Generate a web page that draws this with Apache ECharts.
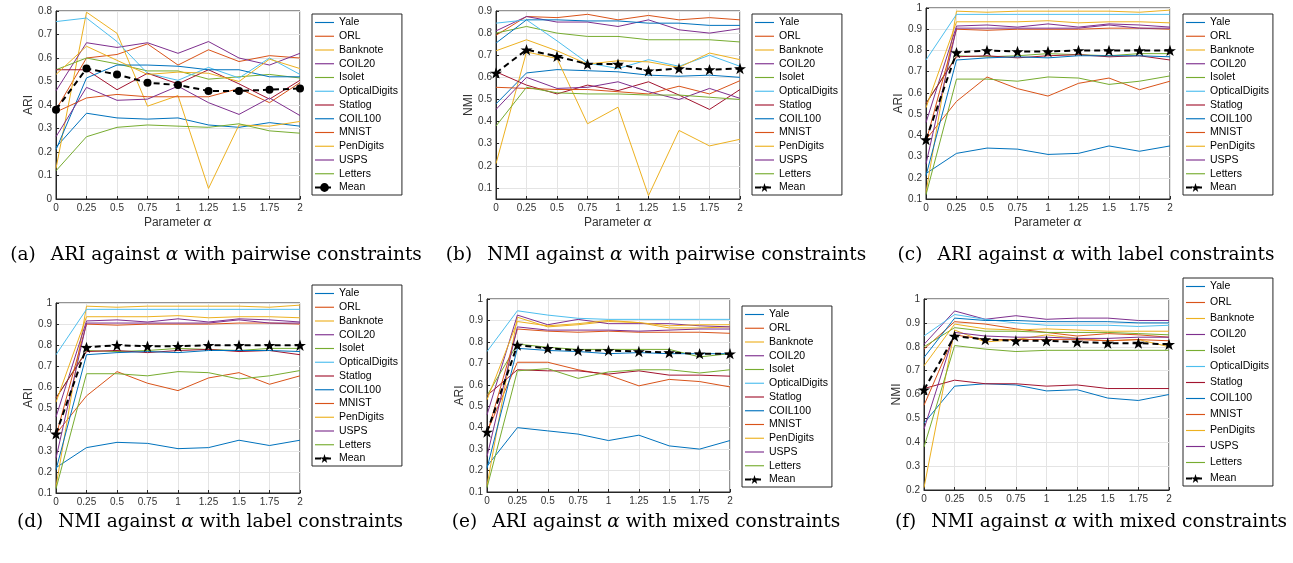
<!DOCTYPE html>
<html>
<head>
<meta charset="utf-8">
<script src="https://cdn.jsdelivr.net/npm/echarts@6/dist/echarts.min.js"></script>
<style>
html,body{margin:0;padding:0;background:#fff;}
#chart{width:1293px;height:563px;}
</style>
</head>
<body>
<div id="chart"></div>
<script>
var alpha=[0,0.25,0.5,0.75,1,1.25,1.5,1.75,2];
var names=['Yale','ORL','Banknote','COIL20','Isolet','OpticalDigits','Statlog','COIL100','MNIST','PenDigits','USPS','Letters'];
var colors=['#0072BD','#D95319','#EDB120','#7E2F8E','#77AC30','#4DBEEE','#A2142F','#0072BD','#D95319','#EDB120','#7E2F8E','#77AC30'];

// rows follow the order of names
var ariPair=[
	[0.22,0.365,0.345,0.34,0.345,0.315,0.305,0.325,0.31],
	[0.38,0.60,0.615,0.66,0.57,0.635,0.585,0.61,0.60],
	[0.13,0.795,0.705,0.395,0.44,0.045,0.315,0.31,0.33],
	[0.46,0.665,0.645,0.665,0.62,0.67,0.60,0.57,0.62],
	[0.55,0.60,0.575,0.545,0.545,0.51,0.52,0.53,0.515],
	[0.755,0.77,0.67,0.535,0.505,0.56,0.515,0.60,0.53],
	[0.55,0.55,0.465,0.535,0.49,0.55,0.49,0.425,0.505],
	[0.21,0.515,0.57,0.57,0.565,0.55,0.55,0.52,0.52],
	[0.37,0.43,0.445,0.435,0.435,0.435,0.47,0.41,0.495],
	[0.53,0.65,0.59,0.53,0.54,0.535,0.50,0.595,0.555],
	[0.265,0.475,0.42,0.425,0.48,0.41,0.36,0.43,0.355],
	[0.12,0.265,0.305,0.315,0.31,0.305,0.32,0.29,0.28]
];
var ariPairMean=[0.38,0.555,0.53,0.495,0.485,0.46,0.46,0.465,0.47];

var nmiPair=[
	[0.48,0.62,0.635,0.63,0.625,0.61,0.605,0.61,0.60],
	[0.79,0.875,0.87,0.885,0.86,0.88,0.86,0.87,0.86],
	[0.21,0.715,0.685,0.39,0.465,0.065,0.36,0.29,0.32],
	[0.81,0.875,0.85,0.85,0.83,0.86,0.815,0.80,0.82],
	[0.80,0.83,0.80,0.785,0.785,0.77,0.77,0.77,0.76],
	[0.845,0.86,0.765,0.665,0.64,0.68,0.65,0.70,0.65],
	[0.625,0.565,0.525,0.565,0.54,0.58,0.52,0.455,0.545],
	[0.755,0.86,0.86,0.855,0.855,0.845,0.845,0.835,0.835],
	[0.555,0.55,0.545,0.545,0.535,0.525,0.56,0.525,0.585],
	[0.72,0.77,0.72,0.66,0.675,0.67,0.645,0.71,0.68],
	[0.455,0.60,0.55,0.555,0.58,0.535,0.50,0.55,0.505],
	[0.38,0.555,0.53,0.525,0.525,0.52,0.52,0.51,0.50]
];
var nmiPairMean=[0.62,0.725,0.695,0.66,0.66,0.63,0.64,0.635,0.64];

var ariLabel=[
	[0.22,0.315,0.34,0.335,0.31,0.315,0.35,0.325,0.35],
	[0.38,0.56,0.675,0.62,0.585,0.645,0.67,0.615,0.655],
	[0.13,0.985,0.98,0.985,0.985,0.985,0.985,0.98,0.99],
	[0.46,0.915,0.92,0.91,0.925,0.91,0.925,0.92,0.91],
	[0.55,0.775,0.77,0.775,0.785,0.78,0.775,0.785,0.785],
	[0.755,0.97,0.97,0.97,0.97,0.97,0.97,0.97,0.97],
	[0.55,0.77,0.775,0.765,0.775,0.78,0.77,0.775,0.755],
	[0.21,0.755,0.765,0.77,0.765,0.775,0.775,0.775,0.77],
	[0.37,0.90,0.895,0.90,0.90,0.90,0.905,0.905,0.90],
	[0.53,0.935,0.935,0.935,0.94,0.93,0.935,0.935,0.93],
	[0.265,0.905,0.905,0.905,0.905,0.905,0.92,0.905,0.905],
	[0.12,0.665,0.665,0.655,0.675,0.67,0.64,0.655,0.68]
];
var ariLabelMean=[0.38,0.79,0.80,0.795,0.795,0.80,0.80,0.80,0.80];

// (d) is drawn with the same curves as (c) in the source figure
var nmiLabel=ariLabel;
var nmiLabelMean=ariLabelMean;

var ariMixed=[
	[0.22,0.40,0.385,0.37,0.34,0.365,0.315,0.30,0.34],
	[0.38,0.705,0.705,0.67,0.645,0.595,0.625,0.615,0.59],
	[0.13,0.915,0.87,0.88,0.895,0.89,0.865,0.865,0.87],
	[0.46,0.925,0.88,0.905,0.885,0.885,0.885,0.875,0.87],
	[0.55,0.79,0.775,0.765,0.765,0.765,0.765,0.73,0.745],
	[0.755,0.945,0.925,0.91,0.905,0.905,0.905,0.905,0.905],
	[0.55,0.67,0.665,0.665,0.65,0.665,0.645,0.645,0.64],
	[0.21,0.77,0.76,0.755,0.745,0.75,0.745,0.745,0.745],
	[0.37,0.86,0.85,0.845,0.85,0.845,0.845,0.845,0.84],
	[0.53,0.895,0.875,0.885,0.90,0.89,0.875,0.88,0.88],
	[0.265,0.87,0.855,0.855,0.855,0.85,0.855,0.86,0.86],
	[0.12,0.665,0.675,0.63,0.66,0.67,0.67,0.655,0.67]
];
var ariMixedMean=[0.38,0.785,0.77,0.76,0.76,0.755,0.75,0.745,0.745];

var nmiMixed=[
	[0.48,0.635,0.645,0.64,0.615,0.62,0.585,0.575,0.60],
	[0.79,0.905,0.895,0.875,0.86,0.845,0.855,0.85,0.84],
	[0.21,0.87,0.82,0.83,0.85,0.835,0.825,0.83,0.80],
	[0.81,0.95,0.915,0.93,0.915,0.92,0.92,0.91,0.91],
	[0.80,0.88,0.865,0.865,0.86,0.86,0.86,0.855,0.85],
	[0.845,0.935,0.915,0.90,0.89,0.89,0.89,0.885,0.89],
	[0.625,0.66,0.645,0.645,0.635,0.64,0.625,0.625,0.625],
	[0.755,0.92,0.91,0.91,0.905,0.905,0.905,0.90,0.90],
	[0.555,0.85,0.83,0.83,0.83,0.83,0.825,0.83,0.825],
	[0.72,0.895,0.875,0.87,0.875,0.87,0.865,0.865,0.865],
	[0.455,0.86,0.845,0.84,0.84,0.835,0.835,0.84,0.84],
	[0.38,0.805,0.79,0.78,0.785,0.785,0.785,0.785,0.785]
];
var nmiMixedMean=[0.62,0.845,0.83,0.825,0.825,0.82,0.815,0.815,0.81];

var starPath='path://M50,0 L61.8,35.1 L98.1,35.1 L68.8,56.7 L79.4,91 L50,70 L20.6,91 L31.2,56.7 L1.9,35.1 L38.2,35.1 Z';
var lineIcon='path://M0,0 L20,0 L20,1.2 L0,1.2 Z';
var axisColor='#262626';
var sans='Liberation Sans';
var serif='DejaVu Serif';

var panels=[
	{data:ariPair,mean:ariPairMean,meanName:'Mean ',yName:'ARI',yMin:0,yMax:0.8,box:[56,11,244,188],leg:[312,14,2.75],xName:true,mark:'circle',cap:'(a)\u2002 ARI against {a|\u03b1} with pairwise constraints',capPos:[216,255]},
	{data:nmiPair,mean:nmiPairMean,meanName:'Mean',yName:'NMI',yMin:0.05,yMax:0.9,box:[496,11,244,188],leg:[752,14,2.75],xName:true,mark:starPath,cap:'(b)\u2002 NMI against {a|\u03b1} with pairwise constraints',capPos:[656,255]},
	{data:ariLabel,mean:ariLabelMean,meanName:'Mean',yName:'ARI',yMin:0.1,yMax:1,box:[926,8,244,191],leg:[1183,14,2.75],xName:true,mark:starPath,cap:'(c)\u2002 ARI against {a|\u03b1} with label constraints',capPos:[1086,255]},
	{data:nmiLabel,mean:nmiLabelMean,meanName:'Mean',yName:'ARI',yMin:0.1,yMax:1,box:[56,303,244,190],leg:[312,285,2.75],xName:false,mark:starPath,cap:'(d)\u2002 NMI against {a|\u03b1} with label constraints',capPos:[210,522]},
	{data:ariMixed,mean:ariMixedMean,meanName:'Mean',yName:'ARI',yMin:0.1,yMax:1,box:[487,299,243,193],leg:[742,306,2.75],xName:false,mark:starPath,cap:'(e)\u2002 ARI against {a|\u03b1} with mixed constraints',capPos:[646,522]},
	{data:nmiMixed,mean:nmiMixedMean,meanName:'Mean',yName:'NMI',yMin:0.2,yMax:1,box:[924,299,245,191],leg:[1183,278,5],xName:false,mark:starPath,cap:'(f)\u2002 NMI against {a|\u03b1} with mixed constraints',capPos:[1091,522]}
];

var pairs=function(vals){
	return alpha.map(function(a,i){return [a,vals[i]];});
};

var grids=[],xAxes=[],yAxes=[],legends=[],series=[],graphics=[];
panels.forEach(function(p,k){
	grids.push({left:p.box[0],top:p.box[1],width:p.box[2],height:p.box[3],show:true,borderColor:axisColor,borderWidth:1,backgroundColor:'#fff'});
	xAxes.push({
		type:'value',gridIndex:k,min:0,max:2,interval:0.25,
		name:p.xName?'{n|Parameter }{i|\u03b1}':'',nameLocation:'middle',nameGap:17,
		nameTextStyle:{color:'#333',rich:{
			n:{fontSize:12,fontFamily:sans,color:'#333'},
			i:{fontSize:13,fontFamily:serif,fontStyle:'italic',color:'#333'}
		}},
		axisLine:{show:true,onZero:false,lineStyle:{color:axisColor,width:1}},
		axisTick:{show:true,inside:true,length:3,lineStyle:{color:axisColor}},
		axisLabel:{fontSize:10,fontFamily:sans,color:'#333',margin:4},
		splitLine:{show:true,lineStyle:{color:'#e4e4e4',width:1}}
	});
	var y={
		type:'value',gridIndex:k,min:p.yMin,max:p.yMax,
		name:p.yName,nameLocation:'middle',nameGap:13,
		nameTextStyle:{fontSize:12,fontFamily:sans,color:'#333'},
		axisLine:{show:true,onZero:false,lineStyle:{color:axisColor,width:1}},
		axisTick:{show:true,inside:true,length:3,lineStyle:{color:axisColor}},
		axisLabel:{fontSize:10,fontFamily:sans,color:'#333',margin:4},
		splitLine:{show:true,lineStyle:{color:'#e4e4e4',width:1}}
	};
	if (p.yMin===0.05) {
		var ticks=[0.1,0.2,0.3,0.4,0.5,0.6,0.7,0.8,0.9];
		y.axisTick.customValues=ticks;
		y.axisLabel.customValues=ticks;
	} else {
		y.interval=0.1;
	}
	yAxes.push(y);
	var legData=names.map(function(n){return {name:n,icon:lineIcon};});
	legData.push({name:p.meanName});
	legends.push({
		orient:'vertical',left:p.leg[0],top:p.leg[1],itemWidth:19,itemHeight:11,itemGap:p.leg[2],
		padding:[3,4,2,2],borderColor:axisColor,borderWidth:1,backgroundColor:'#fff',selectedMode:false,
		textStyle:{fontSize:10.5,fontFamily:sans,color:'#000'},
		data:legData
	});
	p.data.forEach(function(vals,i){
		series.push({
			name:names[i],type:'line',xAxisIndex:k,yAxisIndex:k,data:pairs(vals),
			symbol:'none',silent:true,
			lineStyle:{width:1,color:colors[i]},itemStyle:{color:colors[i]}
		});
	});
	series.push({
		name:p.meanName,type:'line',xAxisIndex:k,yAxisIndex:k,data:pairs(p.mean),
		symbol:p.mark,symbolSize:p.mark==='circle'?8:12,symbolKeepAspect:true,silent:true,
		lineStyle:{width:2,color:'#000',type:[6,4]},itemStyle:{color:'#000'},z:3
	});
	graphics.push({
		type:'text',x:p.capPos[0],y:p.capPos[1],
		style:{
			text:p.cap,align:'center',verticalAlign:'middle',textAlign:'center',textVerticalAlign:'middle',
			fontSize:18.5,fontFamily:serif,fill:'#000',
			rich:{a:{fontSize:18.5,fontFamily:serif,fontStyle:'italic',fill:'#000'}}
		}
	});
});

var chartObj=echarts.init(document.getElementById('chart'));
chartObj.setOption({
	animation:false,
	backgroundColor:'#fff',
	grid:grids,
	xAxis:xAxes,
	yAxis:yAxes,
	legend:legends,
	series:series,
	graphic:graphics
});
</script>
</body>
</html>
